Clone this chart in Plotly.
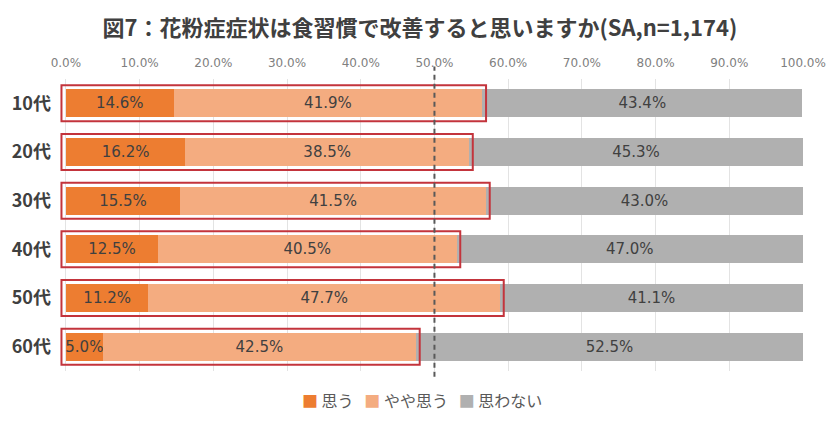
import plotly.graph_objects as go

categories = ["10代", "20代", "30代", "40代", "50代", "60代"]
series_names = ["思う", "やや思う", "思わない"]
omou = [14.6, 16.2, 15.5, 12.5, 11.2, 5.0]
yaya = [41.9, 38.5, 41.5, 40.5, 47.7, 42.5]
omowanai = [43.4, 45.3, 43.0, 47.0, 41.1, 52.5]
tick_vals = [0, 10, 20, 30, 40, 50, 60, 70, 80, 90, 100]
tick_labels = ["0.0%", "10.0%", "20.0%", "30.0%", "40.0%", "50.0%",
               "60.0%", "70.0%", "80.0%", "90.0%", "100.0%"]
title_text = "図7：花粉症症状は食習慣で改善すると思いますか(SA,n=1,174)"

colors = ["#ED7D31", "#F4AC80", "#B0B0B0"]
num_font = "DejaVu Sans"
jp_font = "Noto Sans CJK JP"

fig = go.Figure()
for name, vals, col in zip(series_names, [omou, yaya, omowanai], colors):
    fig.add_trace(go.Bar(
        name=name, y=categories, x=vals, orientation="h",
        marker=dict(color=col, line=dict(width=0)),
        text=[f"{v:.1f}%" for v in vals],
        textposition="inside", insidetextanchor="middle", textangle=0,
        textfont=dict(family=num_font, size=15, color="#404040"),
        hoverinfo="skip", showlegend=False,
    ))

# red outline boxes around 思う + やや思う
for i, (a, b) in enumerate(zip(omou, yaya)):
    fig.add_shape(type="rect", xref="x", yref="y",
                  x0=-0.6, x1=a + b + 0.5, y0=i - 0.37, y1=i + 0.37,
                  line=dict(color="#C3343C", width=2), fillcolor="rgba(0,0,0,0)",
                  layer="above")

# dashed 50% line
fig.add_shape(type="line", xref="x", yref="paper", x0=50, x1=50,
              y0=-0.02, y1=1.043, line=dict(color="#595959", width=2, dash="5px,4px"),
              layer="above")

# legend as text (compact, like the reference)
legend_html = "&nbsp;&nbsp;&nbsp;".join(
    f"<span style='color:{c}'>■</span> {n}" for n, c in zip(series_names, colors))
fig.add_annotation(text=legend_html, xref="paper", yref="paper",
                   x=0.487, y=-0.10, xanchor="center", yanchor="middle",
                   showarrow=False,
                   font=dict(family=jp_font, size=16, color="#595959"))

# the page body has an 8px margin, so the figure is 8px smaller than the window
fig.update_layout(
    width=832, height=413,
    margin=dict(l=52, r=37, t=71, b=50),
    paper_bgcolor="white", plot_bgcolor="white",
    barmode="stack", bargap=0.42,
    title=dict(text=title_text, x=0.495, xanchor="center", y=0.952, yanchor="middle",
               font=dict(family=jp_font, size=22, color="#404040", weight="bold")),
    xaxis=dict(range=[-0.8, 100], side="top", tickvals=tick_vals, ticktext=tick_labels,
               showgrid=True, gridcolor="#E3E3E3", gridwidth=1, zeroline=False,
               showline=False, ticks="", automargin=False, ticklabelstandoff=9,
               tickfont=dict(family=num_font, size=12, color="#808080"),
               fixedrange=True),
    yaxis=dict(autorange="reversed", showgrid=False, showline=False, ticks="",
               automargin=False, ticklabelstandoff=8,
               tickfont=dict(family=jp_font, size=18, color="#404040", weight="bold"),
               fixedrange=True),
    uniformtext=dict(minsize=15, mode="show"),
    showlegend=False,
)

fig.write_html("out.html")
